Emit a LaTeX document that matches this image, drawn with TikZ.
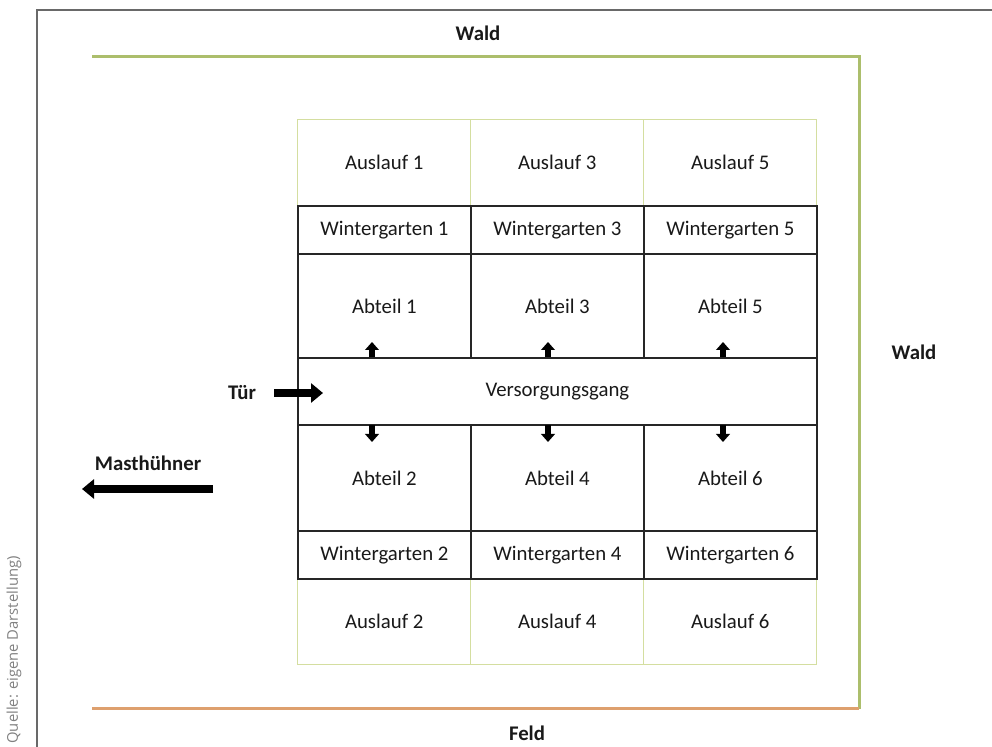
\documentclass[tikz,border=0pt]{standalone}
\usepackage{fontspec}
\setmainfont{Carlito}
\newfontfamily\srcfont{Open Sans}
\usetikzlibrary{arrows.meta}
\definecolor{framegray}{RGB}{105,105,105}
\definecolor{waldgreen}{RGB}{172,190,108}
\definecolor{feldorange}{RGB}{222,160,110}
\definecolor{auslaufgreen}{RGB}{212,222,160}
\definecolor{textdark}{RGB}{25,25,25}
\begin{document}
\begin{tikzpicture}[x=0.5pt,y=-0.5pt,
  font=\fontsize{10.4}{12}\selectfont,
  every node/.style={text=textdark},
  auslauf/.style={draw=auslaufgreen, line width=0.7pt, minimum width=86.5pt, minimum height=43pt, inner sep=0pt, anchor=north west},
  stall/.style={draw=black!85, line width=0.9pt, minimum width=86.5pt, inner sep=0pt, anchor=north west},
  label/.style={font=\fontsize{10.4}{12}\selectfont\bfseries},
  smallarrow/.style={line width=3pt, -{Triangle[length=4pt,width=6.8pt]}},
  bigarrow/.style={line width=4pt, -{Triangle[length=6pt,width=9.5pt]}}
]
\useasboundingbox (0,0) rectangle (992,747);
% outer page frame
\draw[framegray, line width=1pt] (992,10) -- (37,10) -- (37,747);
% source text
\node[rotate=90, anchor=west, inner sep=0pt, text=black!50, font=\srcfont\fontsize{7.4}{9}\selectfont] (src) at (14,744) {Quelle: eigene Darstellung)};
% wald / feld boundary
\coordinate (gl) at (92,57);
\coordinate (gr) at (859,57);
\coordinate (br) at (859,709);
\coordinate (bl) at (92,709);
\draw[waldgreen, line width=1.5pt] (gl) -- (gr) -- (br);
\draw[feldorange, line width=1.5pt] (bl) -- (br);
% labels
\node[label] (waldtop) at (478,33) {Wald};
\node[label] (waldright) at (914,352) {Wald};
\node[label] (feld) at (527,733) {Feld};
\node[label] (tuer) at (242,393) {Tür};
\node[label] (mast) at (148,463) {Masthühner};
% Auslauf cells
\node[auslauf] (a1) at (297,119) {Auslauf 1};
\node[auslauf] (a3) at (470,119) {Auslauf 3};
\node[auslauf] (a5) at (643,119) {Auslauf 5};
\node[auslauf] (a2) at (297,578) {Auslauf 2};
\node[auslauf] (a4) at (470,578) {Auslauf 4};
\node[auslauf] (a6) at (643,578) {Auslauf 6};
% Wintergarten
\node[stall, minimum height=24pt] (w1) at (297,205) {Wintergarten 1};
\node[stall, minimum height=24pt] (w3) at (470,205) {Wintergarten 3};
\node[stall, minimum height=24pt] (w5) at (643,205) {Wintergarten 5};
\node[stall, minimum height=24pt] (w2) at (297,530) {Wintergarten 2};
\node[stall, minimum height=24pt] (w4) at (470,530) {Wintergarten 4};
\node[stall, minimum height=24pt] (w6) at (643,530) {Wintergarten 6};
% Abteile
\node[stall, minimum height=52pt] (ab1) at (297,253) {Abteil 1};
\node[stall, minimum height=52pt] (ab3) at (470,253) {Abteil 3};
\node[stall, minimum height=52pt] (ab5) at (643,253) {Abteil 5};
\node[stall, minimum height=53pt] (ab2) at (297,424) {Abteil 2};
\node[stall, minimum height=53pt] (ab4) at (470,424) {Abteil 4};
\node[stall, minimum height=53pt] (ab6) at (643,424) {Abteil 6};
% Versorgungsgang
\node[stall, minimum width=259.5pt, minimum height=33.5pt] (vg) at (297,357) {Versorgungsgang};
% small arrows
\foreach \n/\x in {1/372,3/548,5/723}{
  \coordinate (u\n s) at (\x,357);
  \coordinate (u\n e) at (\x,342);
  \draw[smallarrow] (u\n s) -- (u\n e);
}
\foreach \n/\x in {2/372,4/548,6/723}{
  \coordinate (d\n s) at (\x,425);
  \coordinate (d\n e) at (\x,442);
  \draw[smallarrow] (d\n s) -- (d\n e);
}
% door arrow
\coordinate (ts) at (274,393);
\coordinate (te) at (323,393);
\draw[bigarrow] (ts) -- (te);
% Masthuehner arrow
\coordinate (ms) at (213,489);
\coordinate (me) at (82,489);
\draw[bigarrow] (ms) -- (me);
\end{tikzpicture}
\end{document}
